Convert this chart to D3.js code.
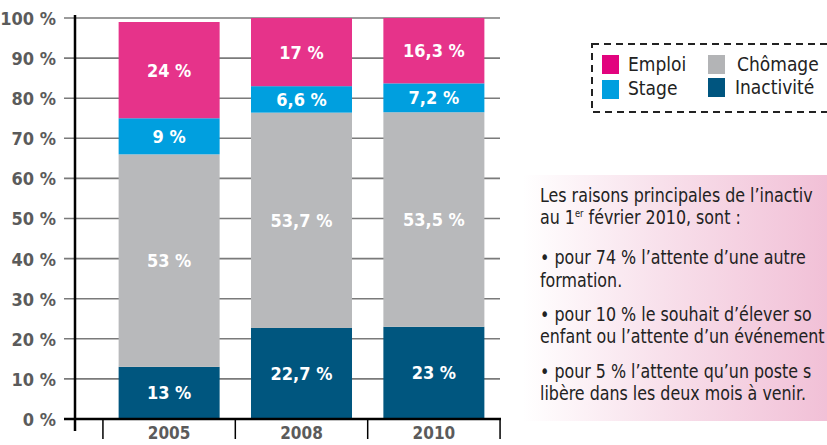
<!DOCTYPE html>
<html><head><meta charset="utf-8">
<script src="https://cdn.jsdelivr.net/npm/d3@7"></script>
<style>
html,body{margin:0;padding:0;background:#fff;overflow:hidden;}
svg{display:block;}
</style></head>
<body>
<svg id="c" width="827" height="445"></svg>
<script>
// ---- data ----
const years = ["2005", "2008", "2010"];
const seriesNames = ["Inactivité", "Chômage", "Stage", "Emploi"];
const inactivite = [13, 22.7, 23];
const chomage = [53, 53.7, 53.5];
const stage = [9, 6.6, 7.2];
const emploi = [24, 17, 16.3];
const yTicks = [0, 10, 20, 30, 40, 50, 60, 70, 80, 90, 100];
const legendOrder = [["Emploi", "Chômage"], ["Stage", "Inactivité"]];
// note text as visible in the reference (cropped at the right edge)
const noteLines = [
  ["Les raisons principales de l\u2019inactiv", "au 1er février 2010, sont :"],
  ["\u2022 pour 74 % l\u2019attente d\u2019une autre", "formation."],
  ["\u2022 pour 10 % le souhait d\u2019élever so", "enfant ou l\u2019attente d\u2019un événement"],
  ["\u2022 pour 5 % l\u2019attente qu\u2019un poste s", "libère dans les deux mois à venir."]
];

const colors = {"Emploi": "#E6338A", "Stage": "#009FDF", "Chômage": "#B8B9BB", "Inactivité": "#00567F"};
const legendColors = {"Emploi": "#E2037E", "Stage": "#009FDF", "Chômage": "#B3B4B6", "Inactivité": "#00557F"};

const table = years.map((y, i) => ({year: y, "Inactivité": inactivite[i], "Chômage": chomage[i], "Stage": stage[i], "Emploi": emploi[i]}));

const svg = d3.select("#c");
const boldFont = "'Liberation Sans Narrow','DejaVu Sans Condensed','Roboto',sans-serif";

// ---- note box with gradient ----
const defs = svg.append("defs");
const grad = defs.append("linearGradient").attr("id", "pg").attr("x1", "0").attr("x2", "1").attr("y1", "0").attr("y2", "0");
grad.append("stop").attr("offset", "0").attr("stop-color", "#ffffff");
grad.append("stop").attr("offset", "0.45").attr("stop-color", "#F8E0EB");
grad.append("stop").attr("offset", "1").attr("stop-color", "#F1BFD6");
svg.append("rect").attr("x", 523).attr("y", 175).attr("width", 310).attr("height", 246).attr("fill", "url(#pg)");

// ---- scales ----
const y = d3.scaleLinear().domain([0, 100]).range([419, 18]);
const x = d3.scaleBand().domain(years).range([103, 500]).paddingInner(0.237).paddingOuter(0.118);

// gridlines
svg.append("g").selectAll("line").data(yTicks.filter(t => t > 0)).join("line")
  .attr("x1", 64).attr("x2", 500)
  .attr("y1", d => y(d)).attr("y2", d => y(d))
  .attr("stroke", "#7a7a7a").attr("stroke-width", 1.6);

// y tick labels via axis
const yAxis = svg.append("g").attr("transform", "translate(64,0)")
  .call(d3.axisLeft(y).tickValues(yTicks).tickSize(0).tickPadding(8).tickFormat(d => d + " %"));
yAxis.select(".domain").remove();
yAxis.selectAll("text").attr("font-family", boldFont).attr("font-weight", "bold")
  .attr("font-size", 18).attr("fill", "#5b5b5b").attr("dy", "0.36em");

// stacked bars
const stack = d3.stack().keys(seriesNames);
const layers = stack(table);
const fmt = v => String(v).replace(".", ",") + " %";

const lg = svg.append("g").selectAll("g").data(layers).join("g").attr("fill", d => colors[d.key]);
lg.selectAll("rect").data(d => d).join("rect")
  .attr("x", d => x(d.data.year)).attr("width", x.bandwidth())
  .attr("y", d => y(d[1])).attr("height", d => y(d[0]) - y(d[1]));

const tg = svg.append("g").selectAll("g").data(layers).join("g");
tg.selectAll("text").data(d => d.map(s => ({s, key: d.key}))).join("text")
  .attr("x", d => x(d.s.data.year) + x.bandwidth() / 2)
  .attr("y", d => (y(d.s[0]) + y(d.s[1])) / 2)
  .attr("dy", "0.36em").attr("text-anchor", "middle")
  .attr("font-family", boldFont).attr("font-weight", "bold").attr("font-size", 18)
  .attr("fill", "#fff").text(d => fmt(d.s.data[d.key]));

// axes lines
svg.append("line").attr("x1", 75).attr("x2", 75).attr("y1", 15).attr("y2", 431)
  .attr("stroke", "#000").attr("stroke-width", 2.5);
svg.append("line").attr("x1", 64).attr("x2", 501).attr("y1", 419).attr("y2", 419)
  .attr("stroke", "#000").attr("stroke-width", 2.5);

// x axis ticks at band boundaries + labels
const bounds = years.map(d => x(d) - x.step() * x.paddingInner() / 2).concat([x(years[2]) + x.bandwidth() + x.step() * x.paddingInner() / 2]);
svg.append("g").selectAll("line").data(bounds).join("line")
  .attr("x1", d => d).attr("x2", d => d).attr("y1", 419).attr("y2", 439)
  .attr("stroke", "#000").attr("stroke-width", 1.5);
const xAxis = svg.append("g").attr("transform", "translate(0,419)")
  .call(d3.axisBottom(x).tickSize(0).tickPadding(0));
xAxis.select(".domain").remove();
xAxis.selectAll("text").attr("font-family", boldFont).attr("font-weight", "bold")
  .attr("font-size", 17).attr("fill", "#5b5b5b").attr("y", 20).attr("dy", 0);

// legend
svg.append("rect").attr("x", 592).attr("y", 44).attr("width", 300).attr("height", 68)
  .attr("fill", "none").attr("stroke", "#222").attr("stroke-width", 2).attr("stroke-dasharray", "7,5");
const legPos = [[602, 55, 628, 71], [708, 55, 737, 71], [602, 80, 628, 95], [708, 78, 735, 94]];
const legItems = legendOrder.flat();
const leg = svg.append("g").selectAll("g").data(legItems).join("g");
leg.append("rect").attr("x", (d, i) => legPos[i][0]).attr("y", (d, i) => legPos[i][1])
  .attr("width", 17).attr("height", 19).attr("fill", d => legendColors[d]);
leg.append("text").attr("x", (d, i) => legPos[i][2]).attr("y", (d, i) => legPos[i][3])
  .attr("font-family", boldFont).attr("font-size", 19).attr("fill", "#222").text(d => d);

// note text
const baselines = [[202, 224], [264, 287], [321, 343], [378, 400]];
const ng = svg.append("g").attr("transform", "translate(540,0) scale(0.93,1)")
  .attr("font-family", boldFont).attr("font-size", 19).attr("fill", "#222");
noteLines.forEach((p, i) => {
  p.forEach((line, j) => {
    const t = ng.append("text").attr("x", 0).attr("y", baselines[i][j]);
    if (i === 0 && j === 1) {
      t.append("tspan").text("au 1");
      t.append("tspan").attr("font-size", 10).attr("dy", -7).text("er");
      t.append("tspan").attr("dy", 7).text(" février 2010, sont :");
    } else {
      t.text(line);
    }
  });
});
</script>
</body></html>
